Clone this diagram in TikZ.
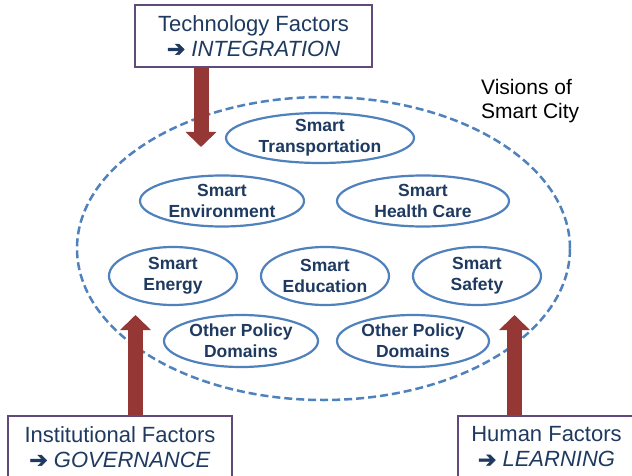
\documentclass[tikz,border=0pt]{standalone}
\usepackage{fontspec}
\setmainfont{Liberation Sans}
\newfontfamily\arrfont[FakeBold=2.5]{DejaVu Sans}
\usetikzlibrary{arrows.meta}
\definecolor{navy}{HTML}{1F3A60}
\definecolor{eblue}{HTML}{4F81BD}
\definecolor{dred}{HTML}{953735}
\definecolor{purp}{HTML}{604A7B}
\newcommand{\rarr}{{\arrfont\char"2794}}
\begin{document}
\begin{tikzpicture}[x=1pt,y=-1pt,
  factor/.style={draw=purp, line width=2.5pt, fill=white, text=navy, align=center,
    font=\fontsize{22}{25}\selectfont, inner sep=0pt, minimum height=62pt},
  domtext/.style={text=navy, align=center, font=\fontsize{17.5}{21}\selectfont\bfseries, inner sep=0pt},
  domring/.style={draw=eblue, line width=2.2pt},
  cityring/.style={draw=eblue, line width=2.5pt, dash pattern=on 8pt off 4pt},
  bigarrow/.style={draw=dred, line width=15pt, -{Triangle[width=30pt,length=15pt]}}
]
\clip (0,0) rectangle (632,476);
\fill[white] (0,0) rectangle (632,476);

% vision of smart city
\coordinate (cityc) at (323.5,248.5);
\draw[cityring] (cityc) ellipse [x radius=246.5pt, y radius=151.5pt];
\node[anchor=west, align=left, font=\fontsize{21}{24.5}\selectfont, inner sep=0pt] (vis) at (481,101) {Visions of\\Smart City};

% domains
\node[domtext] (tr) at (320,138) {Smart\\Transportation};
\draw[domring] (tr.center) ellipse [x radius=94pt, y radius=25pt];
\node[domtext] (env) at (222,201) {Smart\\Environment};
\draw[domring] (env.center) ellipse [x radius=82pt, y radius=25.5pt];
\node[domtext] (hc) at (423,201) {Smart\\Health Care};
\draw[domring] (hc.center) ellipse [x radius=86pt, y radius=25.5pt];
\node[domtext] (en) at (173,276) {Smart\\Energy};
\draw[domring] (en.center) ellipse [x radius=64pt, y radius=29pt];
\node[domtext] (ed) at (325,276) {Smart\\Education};
\draw[domring] (ed.center) ellipse [x radius=64pt, y radius=29pt];
\node[domtext] (sf) at (477,276) {Smart\\Safety};
\draw[domring] (sf.center) ellipse [x radius=64pt, y radius=29pt];
\node[domtext] (op1) at (241,341) {Other Policy\\Domains};
\draw[domring] (op1.center) ellipse [x radius=77pt, y radius=26pt];
\node[domtext] (op2) at (413,341) {Other Policy\\Domains};
\draw[domring] (op2.center) ellipse [x radius=76pt, y radius=26pt];

% factor boxes
\node[factor, minimum width=237pt] (tech) at (253.5,36) {Technology Factors\\\rarr\ \textit{INTEGRATION}};
\node[factor, minimum width=224pt] (inst) at (120,447) {Institutional Factors\\\rarr\ \textit{GOVERNANCE}};
\node[factor, minimum width=177pt] (hum) at (546.5,447) {Human Factors\\\rarr\ \textit{LEARNING}};

% arrows
\coordinate (ttip) at (201,147);
\coordinate (ltip) at (135.5,315);
\coordinate (rtip) at (514.5,315);
\draw[bigarrow] (ttip |- tech.south) -- (ttip);
\draw[bigarrow] (ltip |- inst.north) -- (ltip);
\draw[bigarrow] (rtip |- hum.north) -- (rtip);
\end{tikzpicture}
\end{document}
